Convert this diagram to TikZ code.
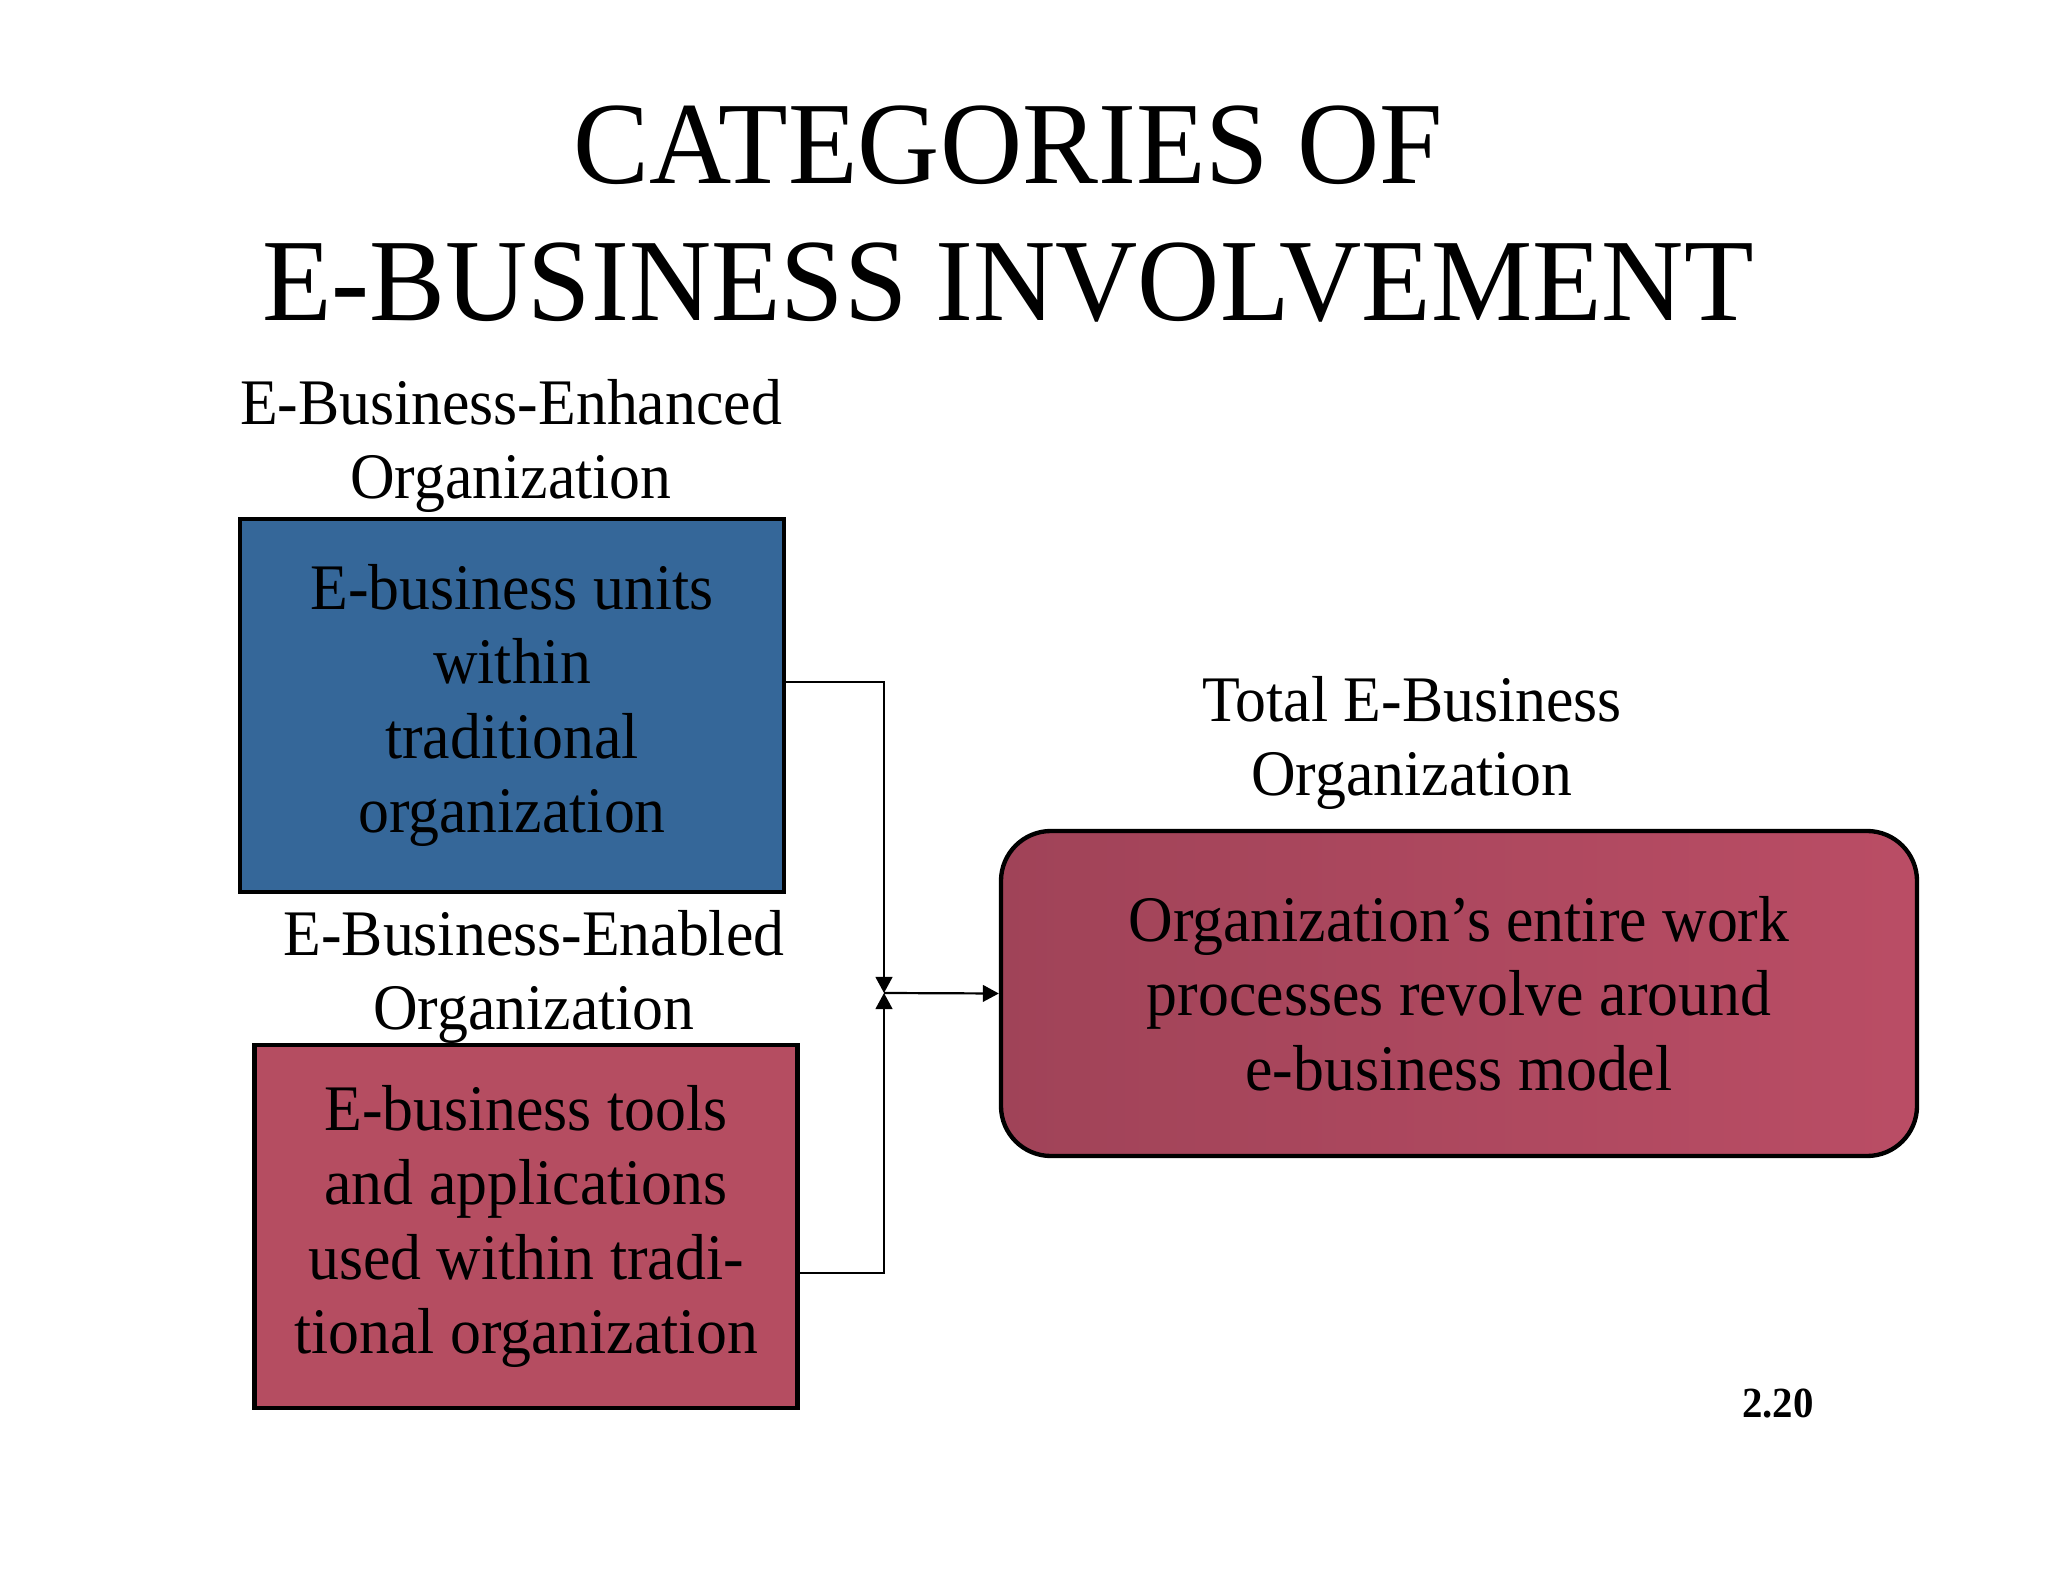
\documentclass[tikz,border=0pt]{standalone}
\usepackage{fontspec}
\setmainfont{Liberation Serif}[FakeStretch=0.95]
\newfontfamily\titlefont{Liberation Serif}[FakeStretch=0.97]
\usepackage{tikz}
\usetikzlibrary{shapes,arrows.meta,positioning,calc}

\definecolor{enhblue}{HTML}{356799}
\definecolor{enbred}{HTML}{B54D61}
\definecolor{totleft}{HTML}{A04358}
\definecolor{totright}{HTML}{BA4D65}

\begin{document}
\begin{tikzpicture}[
    x=0.015cm, y=-0.015cm,
    box/.style={rectangle, draw, line width=0.065cm, align=center, inner sep=0pt,
        font=\fontsize{0.975cm}{1.1175cm}\selectfont},
    caption/.style={align=center, inner sep=0pt, font=\fontsize{0.975cm}{1.1175cm}\selectfont},
    arrow/.style={-{Triangle[length=0.24cm, width=0.25cm]}, line width=0.033cm},
]
    \useasboundingbox (0,0) rectangle (2048,1582);

    \node[align=center, inner sep=0pt, font=\titlefont\fontsize{1.76cm}{2.0475cm}\selectfont] (title) at (1008,214) {CATEGORIES OF\\E-BUSINESS INVOLVEMENT};

    \node[caption] (enhcap) at (511,446) {E-Business-Enhanced\\Organization};
    \node[box, fill=enhblue, minimum width=8.16cm, minimum height=5.595cm] (enh) at (512,705.5) {E-business units\\within\\traditional\\organization};

    \node[caption] (enbcap) at (534,977) {E-Business-Enabled\\Organization};
    \node[box, fill=enbred, minimum width=8.145cm, minimum height=5.445cm] (enb) at (526,1226.5) {E-business tools\\and applications\\used within tradi-\\tional organization};

    \node[caption] (totcap) at (1412,743) {Total E-Business\\Organization};
    \node[box, rounded corners=0.75cm, left color=totleft, right color=totright, minimum width=13.74cm, minimum height=4.875cm] (total) at (1459,993.5) {Organization’s entire work\\processes revolve around\\e-business model};

    \node[inner sep=0pt, font=\fontsize{0.645cm}{0.8cm}\selectfont\bfseries] (pagenum) at (1778,1404) {2.20};

    \coordinate (join) at (884,993);
    \draw[arrow] ([yshift=0.35cm]enh.east) -| (join);
    \draw[arrow] ([yshift=-0.70cm]enb.east) -| (join);
    \draw[arrow] (join) -- (total.west);
\end{tikzpicture}
\end{document}
